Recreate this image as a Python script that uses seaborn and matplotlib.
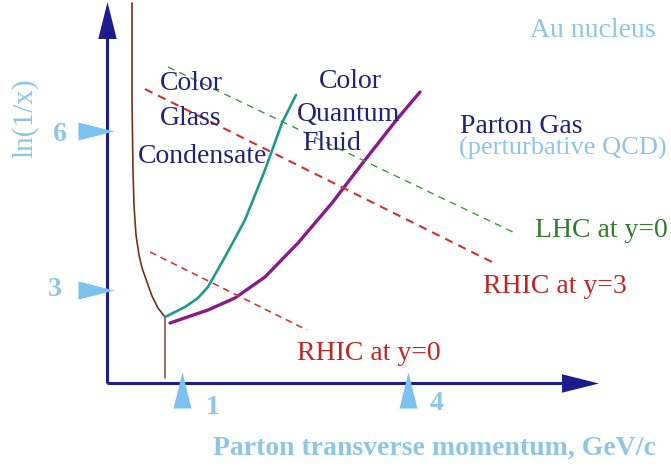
import matplotlib
matplotlib.use("Agg")
import matplotlib.pyplot as plt
import seaborn as sns

# schematic phase diagram: x = parton transverse momentum (GeV/c), y = ln(1/x)
sat_x = [0.332, 0.332, 0.345, 0.358, 0.385, 0.425, 0.465, 0.531, 0.597, 0.677, 0.770]
sat_y = [8.415, 6.585, 5.264, 4.604, 4.038, 3.660, 3.415, 3.151, 2.887, 2.660, 2.491]
sat_stem_x = [0.770, 0.770]
sat_stem_y = [2.491, 1.340]

cgc_x = [0.770, 1.035, 1.200, 1.341, 1.566, 1.832, 2.097, 2.323, 2.509]
cgc_y = [2.491, 2.679, 2.840, 3.057, 3.623, 4.321, 5.264, 6.151, 6.679]

fluid_x = [0.836, 1.341, 1.699, 2.097, 2.536, 2.987, 3.425, 3.863, 4.155]
fluid_y = [2.377, 2.623, 2.849, 3.245, 3.887, 4.642, 5.453, 6.245, 6.736]

rhic3_x = [0.504, 5.111]
rhic3_y = [6.792, 3.528]
lhc_x = [0.810, 5.416]
lhc_y = [7.208, 4.075]
rhic0_x = [0.571, 2.655]
rhic0_y = [3.717, 2.245]

xticks = [1, 4]
yticks = [6, 3]
x0, y0 = 0.0, 1.25

NAVY = "#1c1c8c"
TEXT_NAVY = "#22227a"
LIGHT = "#8ec6e6"
TICK_BLUE = "#7cc2ee"
RED = "#c42420"
GREEN = "#2e7f2e"


def at(px, py):
    # pixel position in the picture -> data units
    return (px - 107) / 75.33, (449 - py) / 53.0


sns.set_theme(style="white")
plt.rcParams["font.family"] = ["Liberation Serif", "DejaVu Serif"]

fig = plt.figure(figsize=(6.71, 4.66), dpi=100)
ax = fig.add_axes([0, 0, 1, 1])
ax.set_xlim(-107 / 75.33, 564 / 75.33)
ax.set_ylim(-17 / 53.0, 449 / 53.0)
ax.axis("off")

# axes with arrow heads
ax.plot([x0, x0], [y0, 8.10], color=NAVY, lw=2.2, solid_capstyle="butt")
ax.plot([x0, 6.28], [y0, y0], color=NAVY, lw=2.2, solid_capstyle="butt")
ax.plot([x0], [8.10], marker=[(-0.5, -1), (0, 1), (0.5, -1)], ms=26.6,
        color=NAVY, mew=0, ls="none")
ax.plot([6.28], [y0], marker=[(-1, -0.5), (1, 0), (-1, 0.5)], ms=26.6,
        color=NAVY, mew=0, ls="none")

# tick triangles
ax.plot([-0.146] * len(yticks), yticks, marker=[(-1, -0.5), (1, 0), (-1, 0.5)],
        ms=26, color=TICK_BLUE, mew=0, ls="none")
ax.plot(xticks, [1.113] * len(xticks), marker=[(-0.5, -1), (0, 1), (0.5, -1)],
        ms=26, color=TICK_BLUE, mew=0, ls="none")
for lab, (px, py) in zip(["6", "3"], [(60, 135), (55, 290)]):
    ax.text(*at(px, py), lab, color=LIGHT, fontsize=20, fontweight="bold",
            ha="center", va="center")
for lab, (px, py) in zip(["1", "4"], [(213, 408), (437, 404)]):
    ax.text(*at(px, py), lab, color=LIGHT, fontsize=20, fontweight="bold",
            ha="center", va="center")

# curves
sns.lineplot(x=sat_x, y=sat_y, sort=False, estimator=None, color="#74301f", lw=1.2, ax=ax)
sns.lineplot(x=sat_stem_x, y=sat_stem_y, sort=False, estimator=None, color="#8a5646", lw=1.2, ax=ax)
sns.lineplot(x=cgc_x, y=cgc_y, sort=False, estimator=None, color="#1f9a8a", lw=1.9, ax=ax)
sns.lineplot(x=fluid_x, y=fluid_y, sort=False, estimator=None, color="#8a1a8c", lw=2.4, ax=ax)
sns.lineplot(x=rhic3_x, y=rhic3_y, sort=False, estimator=None, color="#d23030",
             lw=1.5, linestyle=(0, (4, 3)), ax=ax)
sns.lineplot(x=lhc_x, y=lhc_y, sort=False, estimator=None, color="#3a9a3a",
             lw=1.0, linestyle=(0, (5, 4)), ax=ax)
sns.lineplot(x=rhic0_x, y=rhic0_y, sort=False, estimator=None, color="#d03a3a",
             lw=1.2, linestyle=(0, (4, 3)), ax=ax)

# region and line labels
labels = [
    ("Au nucleus", (530, 37), LIGHT, 20),
    ("Color", (160, 90), TEXT_NAVY, 20),
    ("Glass", (160, 125), TEXT_NAVY, 20),
    ("Condensate", (138, 163), TEXT_NAVY, 20),
    ("Color", (319, 88), TEXT_NAVY, 20),
    ("Quantum", (297, 121), TEXT_NAVY, 20),
    ("Fluid", (302, 150), TEXT_NAVY, 20),
    ("Parton Gas", (460, 133), TEXT_NAVY, 20),
    ("(perturbative QCD)", (459, 155), LIGHT, 19),
    ("LHC at y=0", (535, 237), GREEN, 20),
    ("RHIC at y=3", (483, 293), RED, 20),
    ("RHIC at y=0", (297, 360), RED, 20),
]
for txt, (px, py), col, fs in labels:
    ax.text(*at(px, py), txt, color=col, fontsize=fs, ha="left", va="baseline")

ax.text(*at(213, 455), "Parton transverse momentum, GeV/c", color=LIGHT,
        fontsize=20, fontweight="bold", ha="left", va="baseline")
ax.text(*at(25, 118), "ln(1/x)", color=LIGHT, fontsize=21, rotation=90,
        ha="center", va="center")

fig.savefig("out.png", dpi=100)
